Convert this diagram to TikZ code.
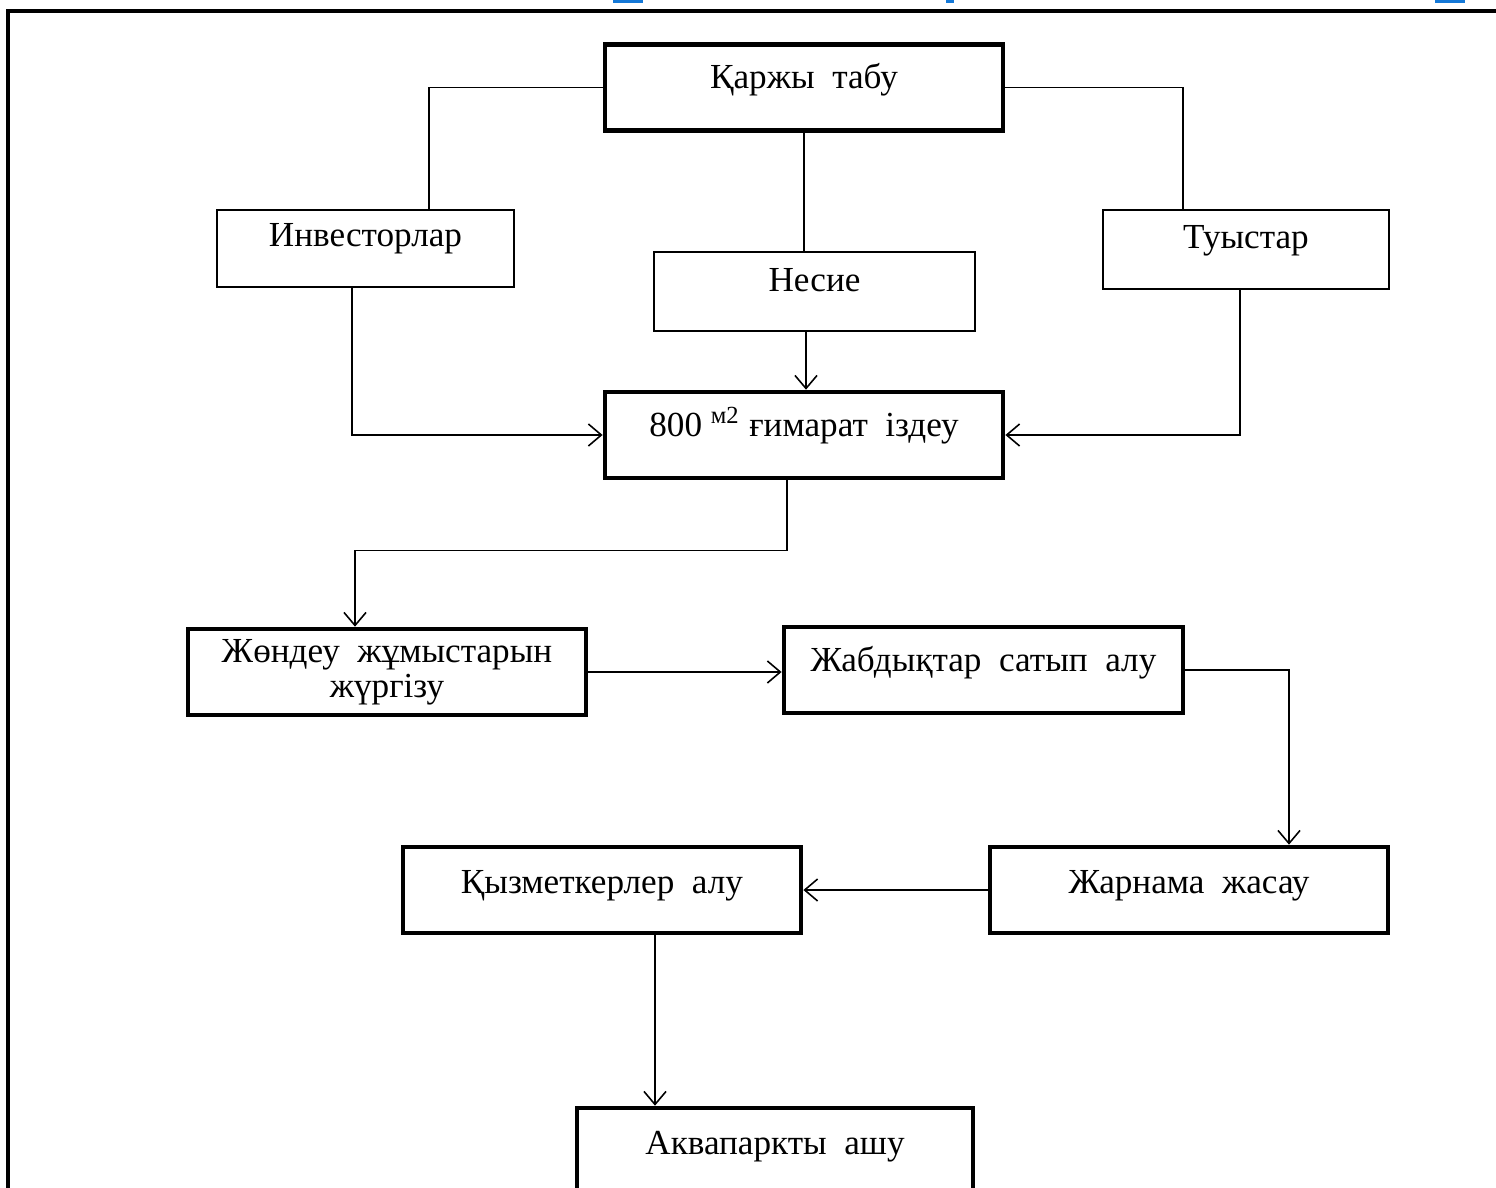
\documentclass[tikz,border=0pt]{standalone}
\usepackage{fontspec}
\setmainfont{Liberation Serif}
\usepackage{tikz}
\usetikzlibrary{arrows.meta}
\definecolor{markblue}{RGB}{20,120,215}

\begin{document}
\begin{tikzpicture}[x=0.01cm, y=-0.01cm, >={Straight Barb[length=1.3mm,width=2.2mm]}]
\tikzstyle{thinbox}=[draw=black, line width=0.6pt, rectangle, inner xsep=0pt, inner ysep=0pt, text depth=0.40cm]
\tikzstyle{thickbox}=[draw=black, line width=1.3pt, rectangle, inner xsep=0pt, inner ysep=0pt, text height=0.44cm, text depth=0.42cm]
\tikzstyle{link}=[line width=0.45pt]

\useasboundingbox (0,0) rectangle (1496,1188);

% frame and marks
\draw[line width=0.9pt] (8,1188) -- (8,11) -- (1496,11);
\fill[markblue] (613,0) rectangle (643,3);
\fill[markblue] (946,0) rectangle (954,3);
\fill[markblue] (1435,0) rectangle (1465,3);

\node (qarzhy) at (804,87.5) [thickbox, minimum width=3.98cm] {Қаржы\ \ табу};
\node (invest) at (365.5,248.5) [thinbox, minimum width=2.97cm, text height=0.37cm] {Инвесторлар};
\node (nesie) at (814.5,291.5) [thinbox, minimum width=3.21cm, text height=0.40cm, text depth=0.39cm] {Несие};
\node (tuys) at (1246,249.5) [thinbox, minimum width=2.86cm, text height=0.39cm] {Туыстар};
\node (gimarat) at (804,435) [thickbox, minimum width=3.98cm] {800 \textsuperscript{м2} ғимарат\ \ іздеу};
\node (zhondeu) at (387,672) [thickbox, minimum width=3.98cm, text height=, text depth=, minimum height=0.86cm, align=center, inner ysep=0pt] {Жөндеу\ \ жұмыстарын\\[-2pt] жүргізу};
\node (zhabdyq) at (983.5,670) [thickbox, minimum width=3.99cm] {Жабдықтар\ \ сатып\ \ алу};
\node (zharnama) at (1189,890) [thickbox, minimum width=3.98cm, text height=0.46cm, text depth=0.40cm] {Жарнама\ \ жасау};
\node (qyzmet) at (602,890) [thickbox, minimum width=3.98cm, text height=0.46cm, text depth=0.40cm] {Қызметкерлер\ \ алу};
\node (akvapark) at (775,1151) [thickbox, minimum width=3.96cm, text height=0.46cm, text depth=0.40cm] {Аквапаркты\ \ ашу};

\draw[link] (qarzhy.west) -| (invest.north -| 429,0);
\draw[link] (qarzhy.south) -- (nesie.north -| qarzhy.south);
\draw[link] (qarzhy.east) -| (tuys.north -| 1183,0);
\draw[link,->] (invest.south -| 352,0) |- (gimarat.west);
\draw[link,->] (nesie.south -| 806,0) -- (gimarat.north -| 806,0);
\draw[link,->] (tuys.south -| 1240,0) |- (gimarat.east);
\draw[link,->] (gimarat.south -| 787,0) -- ++(0,70) -| (zhondeu.north -| 355,0);
\draw[link,->] (zhondeu.east) -- (zhabdyq.west |- zhondeu.east);
\draw[link,->] (zhabdyq.east) -| (zharnama.north -| 1289,0);
\draw[link,->] (zharnama.west) -- (qyzmet.east);
\draw[link,->] (qyzmet.south -| 655,0) -- (akvapark.north -| 655,0);
\end{tikzpicture}
\end{document}
